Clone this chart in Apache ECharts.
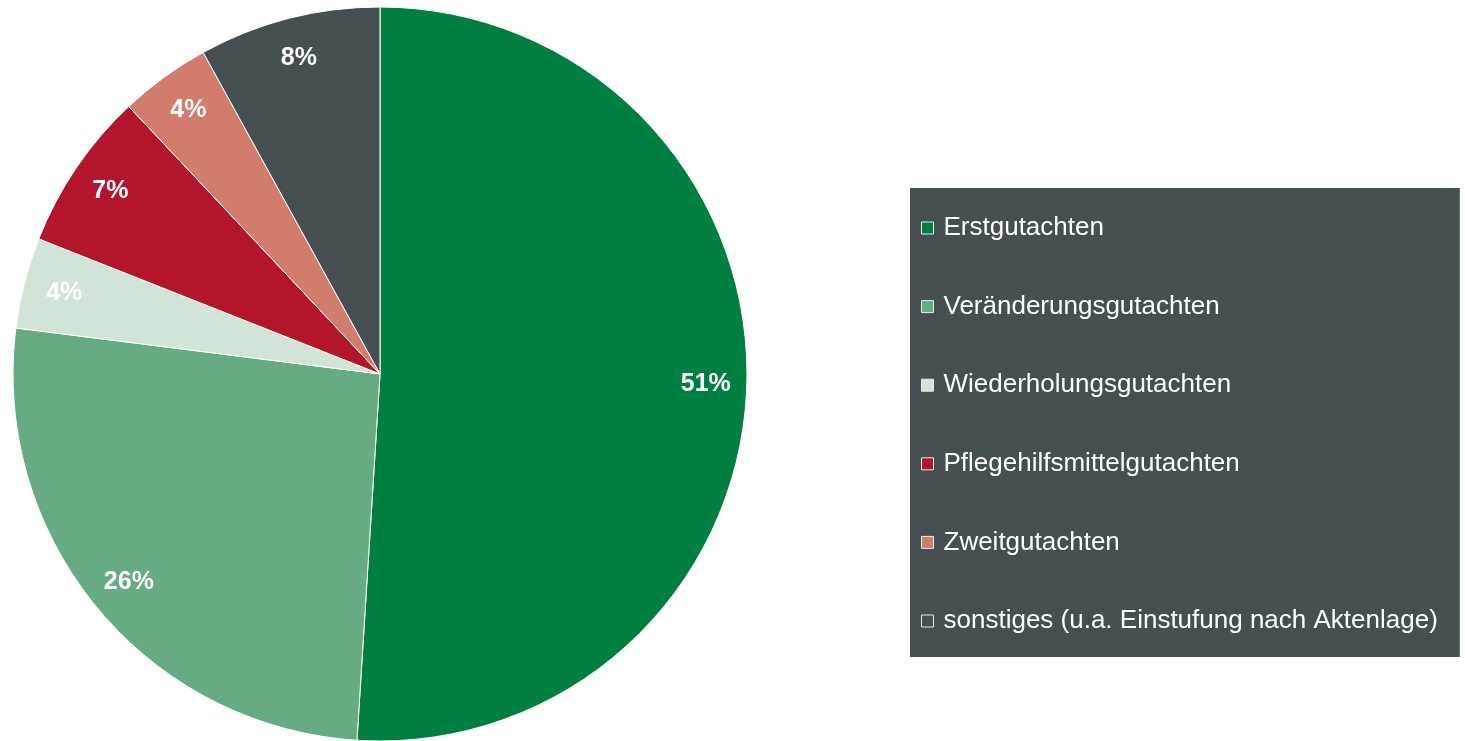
<!DOCTYPE html>
<html>
<head>
<meta charset="utf-8">
<script src="https://cdn.jsdelivr.net/npm/echarts@6/dist/echarts.min.js"></script>
<style>
  html, body { margin: 0; padding: 0; background: #fff; }
  #chart { width: 1465px; height: 741px; }
</style>
</head>
<body>
<div id="chart"></div>
<script>
// Gutachtenarten, Anteile in %
const categories = [
  'Erstgutachten',
  'Veränderungsgutachten',
  'Wiederholungsgutachten',
  'Pflegehilfsmittelgutachten',
  'Zweitgutachten',
  'sonstiges (u.a. Einstufung nach Aktenlage)'
]
const shares = [51, 26, 4, 7, 4, 8]
const colors = ['#007f41', '#66ab83', '#d2e3d7', '#b2152c', '#d17c6c', '#454f51']

const chart = echarts.init(document.getElementById('chart'))

const center = [380, 374]
const radius = 367

chart.setOption({
  animation: false,
  color: colors,
  textStyle: { fontFamily: '"Liberation Sans", Arial, sans-serif' },
  legend: {
    data: categories,
    orient: 'vertical',
    left: 910,
    top: 188,
    padding: [27, 22, 23, 11],
    backgroundColor: '#454f51',
    icon: 'rect',
    itemWidth: 12,
    itemHeight: 12,
    itemGap: 52.6,
    itemStyle: { borderColor: '#e8ecea', borderWidth: 1 },
    textStyle: {
      color: '#fff',
      fontSize: 26,
      lineHeight: 26,
      padding: [0, 0, 0, 5]
    }
  },
  series: [
    {
      // eigentliche Torte
      type: 'pie',
      center: center,
      radius: radius,
      startAngle: 90,
      clockwise: true,
      label: { show: false },
      labelLine: { show: false },
      itemStyle: { borderColor: '#fff', borderWidth: 1 },
      emphasis: { disabled: true },
      data: categories.map((name, i) => ({ name: name, value: shares[i] }))
    },
    {
      // nur fuer die Beschriftung weiter aussen
      type: 'pie',
      center: center,
      radius: [radius * 0.76, radius],
      startAngle: 90,
      clockwise: true,
      silent: true,
      itemStyle: { color: 'transparent', borderWidth: 0 },
      label: {
        show: true,
        position: 'inside',
        formatter: '{c}%',
        color: '#fff',
        fontSize: 25,
        fontWeight: 'bold'
      },
      labelLine: { show: false },
      emphasis: { disabled: true },
      data: shares.map(v => ({ value: v }))
    }
  ]
})
</script>
</body>
</html>
